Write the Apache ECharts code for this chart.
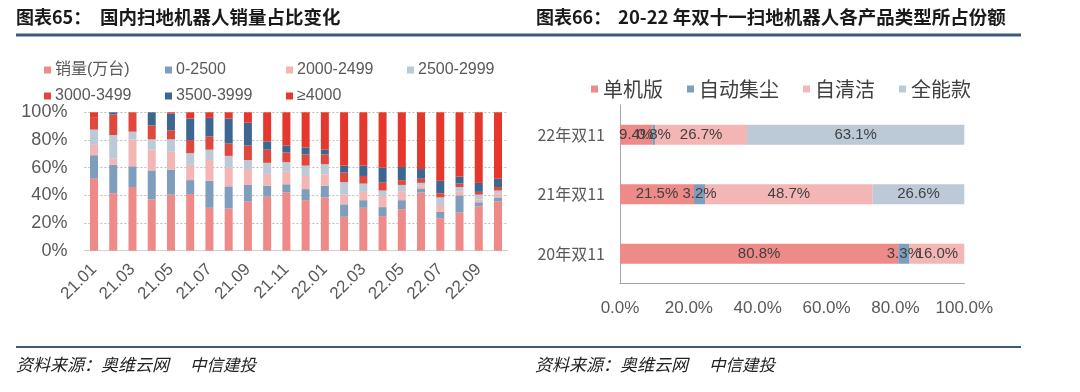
<!DOCTYPE html>
<html>
<head>
<meta charset="utf-8">
<script src="https://cdn.jsdelivr.net/npm/echarts@6/dist/echarts.min.js"></script>
<style>
html,body{margin:0;padding:0;background:#fff;}
#c{width:1080px;height:392px;}
</style>
</head>
<body>
<div id="c"></div>
<script>
// ---- Left chart data (图表65) ----
const months = ['21.01','21.02','21.03','21.04','21.05','21.06','21.07','21.08','21.09','21.10','21.11','21.12',
                '22.01','22.02','22.03','22.04','22.05','22.06','22.07','22.08','22.09','22.10'];
const leftNames = ['销量(万台)','0-2500','2000-2499','2500-2999','3000-3499','3500-3999','≥4000'];
const sVolume   = [52,41.5,46,37,40.5,41,31,30.5,35.5,39,42,36.5,38.5,24.5,31,25,30,42,23.5,27.5,32,35.5];
const s0_2500   = [17,20.5,15,21,18,10,19.5,16,12,8,6,8,8.5,9,5.5,6.5,6.5,3,4.5,12.5,3,3];
const s2000     = [7.5,4.5,19.5,15,13,11,15,13.5,11.5,8.5,9,9.5,8,7,6,8,6.5,2,5,3,2,3];
const s2500     = [11,17,5.5,7.5,9,8.5,7.5,8.5,6.5,8,7,7.5,7.5,9,6,4,4.5,2,5.5,3,3.5,2];
const s3000     = [9,15,14,10,6.5,9.5,9.5,9,10.5,9.5,7,8,7,7,5.5,6,3.5,3,3,2.5,2,2.5];
const s3500     = [0,1.5,0,9.5,12,15.5,13.5,18,16.5,6,5,5,3.5,5,7.5,10.5,9.5,7,9,5,6.5,6];
const s4000     = [3.5,0,0,0,1,4.5,4,4.5,7.5,21,24,25.5,27,38.5,38.5,40,39.5,41,49.5,46.5,51,48];
const leftColors = ['#ee8a88','#7f9dbd','#f3b6b4','#bccad8','#e0483e','#3d6790','#e5372c'];
const leftSeriesData = [sVolume,s0_2500,s2000,s2500,s3000,s3500,s4000];
const leftTicks = [0,20,40,60,80,100];

// ---- Right chart data (图表66) ----
const events = ['20年双11','21年双11','22年双11'];
const rightNames = ['单机版','自动集尘','自清洁','全能款'];
const rSingle   = [80.8,21.5,9.4];
const rDust     = [3.3,3.2,0.8];
const rSelf     = [16.0,48.7,26.7];
const rAll      = [0,26.6,63.1];
const rightColors = ['#ee8a88','#7f9dbd','#f3b6b4','#bccad8'];
const rightSeriesData = [rSingle,rDust,rSelf,rAll];

const chart = echarts.init(document.getElementById('c'), null, {renderer:'canvas'});
const txt = '#595959';
const cjk = '"Noto Sans CJK SC", "Liberation Sans", sans-serif';
const num = '"Liberation Sans", "Noto Sans CJK SC", sans-serif';

const series = [];
leftNames.forEach((n,i)=>{
  series.push({
    name:n, type:'bar', stack:'L', xAxisIndex:0, yAxisIndex:0,
    barWidth:8, data:leftSeriesData[i], itemStyle:{color:leftColors[i]}
  });
});
rightNames.forEach((n,i)=>{
  series.push({
    name:n, type:'bar', stack:'R', xAxisIndex:1, yAxisIndex:1,
    barWidth:20, data:rightSeriesData[i], itemStyle:{color:rightColors[i]},
    label:{show:true, position:'inside', color:'#404040', fontSize:15, fontFamily:num,
      formatter:p=> p.value>0 ? p.value.toFixed(1)+'%' : ''}
  });
});

// legend positions for left chart (one legend per item)
const legPos = [[44,62],[165,62],[286,62],[407,62],[44,88],[165,88],[286,88]];
const legends = leftNames.map((n,i)=>({
  data:[n], left:legPos[i][0], top:legPos[i][1], padding:0,
  icon:'rect', itemWidth:7, itemHeight:7, itemGap:0,
  textStyle:{fontSize:16, color:txt, fontFamily:num, padding:[0,0,0,-1]}
}));
legends.push({
  data:rightNames, left:591, top:79, padding:0, icon:'rect', itemWidth:7, itemHeight:7, itemGap:24,
  textStyle:{fontSize:20, color:'#404040', fontFamily:cjk}
});

const option = {
  animation:false,
  backgroundColor:'#fff',
  legend:legends,
  grid:[
    {left:84.4, top:112.3, width:423.2, height:138.4},
    {left:620, top:105, width:344.3, height:178.5}
  ],
  xAxis:[
    {gridIndex:0, type:'category', data:months,
     axisLine:{show:true, lineStyle:{color:'#d0d0d0'}}, axisTick:{show:false},
     axisLabel:{interval:1, rotate:45, fontSize:17, color:txt, fontFamily:num, margin:16}},
    {gridIndex:1, type:'value', min:0, max:100, interval:20,
     axisLine:{show:true, lineStyle:{color:'#a6a6a6'}}, axisTick:{show:false}, splitLine:{show:false},
     axisLabel:{fontSize:17, color:txt, fontFamily:num, margin:16, formatter:v=>v.toFixed(1)+'%'}}
  ],
  yAxis:[
    {gridIndex:0, type:'value', min:leftTicks[0], max:leftTicks[leftTicks.length-1], interval:20,
     axisLine:{show:false}, axisTick:{show:false},
     splitLine:{show:true, lineStyle:{color:'#bdbdbd', type:[2,2], width:1}},
     axisLabel:{fontSize:18, color:txt, fontFamily:num, margin:17, formatter:'{value}%'}},
    {gridIndex:1, type:'category', data:events,
     axisLine:{show:true, lineStyle:{color:'#a6a6a6'}}, axisTick:{show:false},
     axisLabel:{fontSize:16, color:txt, fontFamily:cjk, margin:15}}
  ],
  series:series,
  graphic:[
    {type:'text', left:16, top:8, style:{text:'图表65：', font:'bold 18px '+cjk, fill:'#1a1a1a'}},
    {type:'text', left:100, top:8, style:{text:'国内扫地机器人销量占比变化', font:'bold 18.5px '+cjk, fill:'#1a1a1a'}},
    {type:'text', left:536, top:8, style:{text:'图表66：', font:'bold 18px '+cjk, fill:'#1a1a1a'}},
    {type:'text', left:618, top:8, style:{text:'20-22 年双十一扫地机器人各产品类型所占份额', font:'bold 18.5px '+cjk, fill:'#1a1a1a'}},
    {type:'line', shape:{x1:16,y1:35,x2:1021,y2:35}, style:{stroke:'#3a5a80', lineWidth:3}},
    {type:'line', shape:{x1:16,y1:347,x2:1021,y2:347}, style:{stroke:'#3d5a78', lineWidth:2}},
    {type:'text', left:16, top:356, style:{text:'资料来源：奥维云网', font:'italic 17px '+cjk, fill:'#222'}},
    {type:'text', left:190, top:356, style:{text:'中信建投', font:'italic 16.5px '+cjk, fill:'#222'}},
    {type:'text', left:535, top:356, style:{text:'资料来源：奥维云网', font:'italic 17px '+cjk, fill:'#222'}},
    {type:'text', left:709, top:356, style:{text:'中信建投', font:'italic 16.5px '+cjk, fill:'#222'}}
  ]
};
chart.setOption(option);
</script>
</body>
</html>
